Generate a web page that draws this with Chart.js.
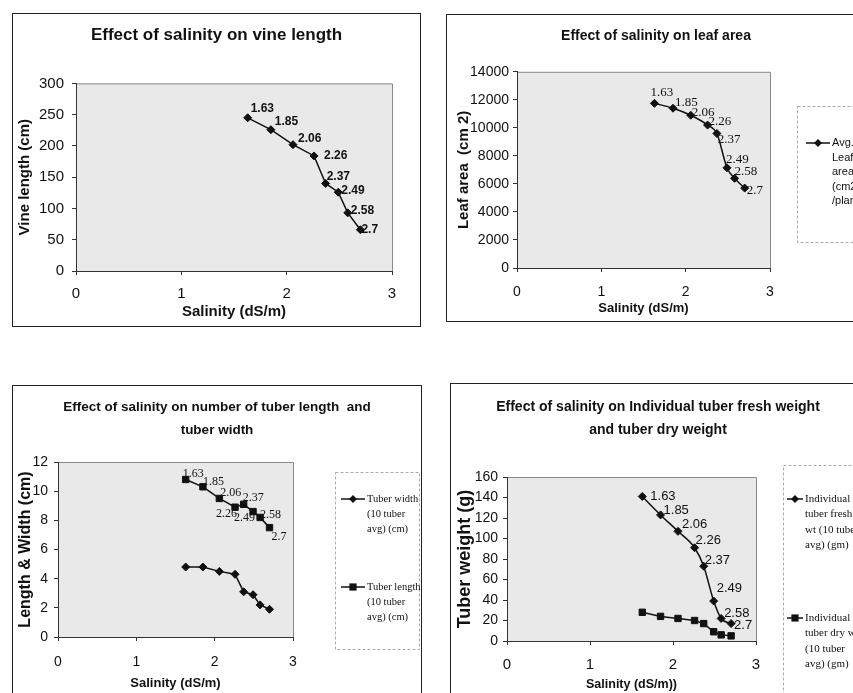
<!DOCTYPE html>
<html>
<head>
<meta charset="utf-8">
<script src="https://cdn.jsdelivr.net/npm/chart.js@4.4.1/dist/chart.umd.min.js"></script>
<style>
  body { margin: 0; background: #fff; width: 853px; height: 693px; overflow: hidden; position: relative; }
  .box { position: absolute; border: 1px solid #222; background: #fff; }
  .box canvas { display: block; }
</style>
</head>
<body>
<div class="box" style="left:12px;top:13px;width:407px;height:312px"><canvas id="vineChart"></canvas></div>
<div class="box" style="left:446px;top:14px;width:418px;height:306px"><canvas id="leafChart"></canvas></div>
<div class="box" style="left:12px;top:385px;width:408px;height:320px"><canvas id="sizeChart"></canvas></div>
<div class="box" style="left:450px;top:383px;width:414px;height:322px"><canvas id="weightChart"></canvas></div>
<script>
const salinity = [1.63, 1.85, 2.06, 2.26, 2.37, 2.49, 2.58, 2.7];
const vineLength = [245, 226, 202, 184, 140, 126, 93, 66];
const leafArea = [11750, 11400, 10900, 10200, 9600, 7150, 6400, 5700];
const tuberWidth = [4.8, 4.8, 4.5, 4.3, 3.1, 2.9, 2.2, 1.9];
const tuberLength = [10.8, 10.3, 9.5, 8.9, 9.1, 8.6, 8.2, 7.5];
const freshWeight = [141, 123, 107, 91, 73, 39, 22, 17];
const dryWeight = [28, 24, 22, 20, 17, 9, 6, 5];
const salinityTicks = [0, 1, 2, 3];

// where the little value tags sit next to each point (px)
const vineTagDx = [3, 4, 5, 10, 1, 3, 3, 1], vineTagDy = [-9, -8, -6, 0, -7, -2, -2, 0];
const leafTagDx = [-4, 2, 1, 1, 1, -1, 0, 2], leafTagDy = [-11, -6, -3, -3, 6, -8, -7, 2];
const lengthTagDx = [-3, 0, 1, -19, -1, -19, 0, 2], lengthTagDy = [-6, -5, -6, 7, -6, 6, -3, 9];
const freshTagDx = [8, 3, 4, 1, 1, 3, 3, 3], freshTagDy = [0, -5, -7, -7, -6, -13, -5, 2];

const SANS = "'Liberation Sans', Arial, sans-serif";
const SERIF = "'Liberation Serif', 'Times New Roman', serif";

Chart.defaults.font.family = SANS;
Chart.defaults.color = '#111';

const plotBack = {
  id: 'plotBack',
  beforeDraw(chart) {
    const a = chart.chartArea, ctx = chart.ctx;
    ctx.save();
    ctx.fillStyle = '#e9e9e9';
    ctx.fillRect(a.left, a.top, a.right - a.left, a.bottom - a.top);
    ctx.strokeStyle = '#8a8a8a';
    ctx.lineWidth = 1;
    ctx.beginPath();
    ctx.moveTo(a.left, a.top + 0.5); ctx.lineTo(a.right + 0.5, a.top + 0.5); ctx.lineTo(a.right + 0.5, a.bottom);
    ctx.stroke();
    ctx.restore();
  }
};

function tagPlugin(dsIndex, dx, dy, font) {
  return {
    id: 'tags' + dsIndex,
    afterDatasetsDraw(chart) {
      const ctx = chart.ctx;
      ctx.save();
      ctx.font = font;
      ctx.fillStyle = '#111';
      ctx.textAlign = 'left';
      ctx.textBaseline = 'middle';
      chart.getDatasetMeta(dsIndex).data.forEach((pt, i) => {
        ctx.fillText(String(salinity[i]), pt.x + dx[i], pt.y + dy[i]);
      });
      ctx.restore();
    }
  };
}

function marker(ctx, style, r, x, y) {
  ctx.beginPath();
  if (style === 'rect') {
    ctx.rect(x - r * 0.8, y - r * 0.8, r * 1.6, r * 1.6);
  } else {
    ctx.moveTo(x, y - r); ctx.lineTo(x + r, y); ctx.lineTo(x, y + r); ctx.lineTo(x - r, y); ctx.closePath();
  }
  ctx.fill();
}

function boxLegend(box, items, font, step) {
  return {
    id: 'boxLegend',
    afterDraw(chart) {
      const ctx = chart.ctx;
      ctx.save();
      ctx.strokeStyle = '#aaa';
      ctx.lineWidth = 1;
      ctx.setLineDash([3, 2]);
      ctx.strokeRect(box.x + 0.5, box.y + 0.5, box.w, box.h);
      ctx.setLineDash([]);
      items.forEach(it => {
        const ds = chart.data.datasets[it.dataset];
        ctx.strokeStyle = '#111';
        ctx.fillStyle = '#111';
        ctx.lineWidth = 1.5;
        ctx.beginPath(); ctx.moveTo(it.x0, it.y); ctx.lineTo(it.x1, it.y); ctx.stroke();
        marker(ctx, ds.pointStyle, ds.pointRadius, (it.x0 + it.x1) / 2, it.y);
        ctx.font = font;
        ctx.textAlign = 'left';
        ctx.textBaseline = 'middle';
        it.lines.forEach((t, k) => ctx.fillText(t, it.x1 + 2, it.y + k * step));
      });
      ctx.restore();
    }
  };
}

function xScale(height, pad, titlePad, font, titleFont, text) {
  return {
    type: 'linear', min: 0, max: 3,
    afterBuildTicks: s => { s.ticks = salinityTicks.map(v => ({ value: v })); },
    afterFit: s => { s.height = height; },
    grid: { display: true, drawOnChartArea: false, tickLength: 4, color: '#333' },
    border: { color: '#333', width: 1 },
    ticks: { padding: pad, font: font, color: '#111', maxRotation: 0 },
    title: { display: true, text: text || 'Salinity (dS/m)', font: titleFont, color: '#111', padding: { top: 0, bottom: titlePad } }
  };
}

function yScale(width, max, step, pad, titlePad, text, font, titleFont) {
  return {
    min: 0, max: max,
    afterFit: s => { s.width = width; },
    grid: { display: true, drawOnChartArea: false, tickLength: 4, color: '#333' },
    border: { color: '#333', width: 1 },
    ticks: { stepSize: step, padding: pad, font: font, color: '#111', autoSkip: false, format: { useGrouping: false } },
    title: { display: true, text: text, font: titleFont, color: '#111', padding: { top: titlePad, bottom: 0 } }
  };
}

// empty axis on the right that keeps room for the legend box
function spacer(width) {
  return {
    position: 'right', display: true,
    afterFit: s => { s.width = width; },
    grid: { display: false }, border: { display: false }, ticks: { display: false }
  };
}

function series(values, style, radius, tension) {
  return {
    data: salinity.map((x, i) => ({ x: x, y: values[i] })),
    borderColor: '#111', backgroundColor: '#111',
    borderWidth: 1.5, pointStyle: style, pointRadius: radius, pointBorderWidth: 1,
    tension: tension || 0, cubicInterpolationMode: tension ? 'monotone' : 'default'
  };
}

function baseOptions(title, scales) {
  return {
    responsive: true, maintainAspectRatio: false, animation: false, events: [],
    layout: { padding: 0 },
    plugins: { legend: { display: false }, tooltip: { enabled: false }, title: title },
    scales: scales
  };
}

// vine length
new Chart(document.getElementById('vineChart'), {
  type: 'line',
  data: { datasets: [series(vineLength, 'rectRot', 4)] },
  options: baseOptions(
    { display: true, text: 'Effect of salinity on vine length', font: { size: 17, weight: 'bold' }, color: '#111', padding: { top: 11, bottom: 38 } },
    {
      x: xScale(55, 10, 5, { size: 15 }, { size: 15, weight: 'bold' }),
      y: yScale(63, 300, 50, 8, 3, 'Vine length (cm)', { size: 15 }, { size: 15, weight: 'bold' }),
      pad: spacer(28)
    }),
  plugins: [plotBack, tagPlugin(0, vineTagDx, vineTagDy, 'bold 12px ' + SANS)]
});

// leaf area
new Chart(document.getElementById('leafChart'), {
  type: 'line',
  data: { datasets: [series(leafArea, 'rectRot', 4, 0.2)] },
  options: baseOptions(
    { display: true, text: 'Effect of salinity on leaf area', font: { size: 14, weight: 'bold' }, color: '#111', padding: { top: 13, bottom: 27 } },
    {
      x: xScale(53, 12, 5, { size: 14 }, { size: 13, weight: 'bold' }),
      y: yScale(70, 14000, 2000, 4, 8, 'Leaf area  (cm 2)', { size: 14 }, { size: 15, weight: 'bold' }),
      pad: spacer(95)
    }),
  plugins: [plotBack, tagPlugin(0, leafTagDx, leafTagDy, '13px ' + SERIF),
    boxLegend({ x: 350, y: 91, w: 120, h: 136 },
      [{ dataset: 0, x0: 359, x1: 383, y: 128, lines: ['Avg.', 'Leaf', 'area', '(cm2', '/plant)'] }],
      '11px ' + SANS, 14.5)]
});

// tuber length and width
new Chart(document.getElementById('sizeChart'), {
  type: 'line',
  data: { datasets: [series(tuberWidth, 'rectRot', 4), series(tuberLength, 'rect', 4.5)] },
  options: baseOptions(
    { display: true, text: ['Effect of salinity on number of tuber length  and', 'tuber width'], font: { size: 13.5, weight: 'bold', lineHeight: '23px' }, color: '#111', padding: { top: 10, bottom: 20 } },
    {
      x: xScale(69, 13, 15, { size: 14 }, { size: 13, weight: 'bold' }),
      y: yScale(45, 12, 2, 6, 3, 'Length & Width (cm)', { size: 14 }, { size: 16, weight: 'bold' }),
      pad: spacer(128)
    }),
  plugins: [plotBack, tagPlugin(1, lengthTagDx, lengthTagDy, '12px ' + SERIF),
    boxLegend({ x: 322, y: 86, w: 84, h: 177 },
      [{ dataset: 0, x0: 328, x1: 352, y: 113, lines: ['Tuber width', '(10 tuber', 'avg) (cm)'] },
       { dataset: 1, x0: 328, x1: 352, y: 201, lines: ['Tuber length', '(10 tuber', 'avg) (cm)'] }],
      '10.5px ' + SERIF, 15)]
});

// tuber fresh and dry weight
new Chart(document.getElementById('weightChart'), {
  type: 'line',
  data: { datasets: [series(freshWeight, 'rectRot', 4, 0.3), series(dryWeight, 'rect', 4.5)] },
  options: baseOptions(
    { display: true, text: ['Effect of salinity on Individual tuber fresh weight', 'and tuber dry weight'], font: { size: 14, weight: 'bold', lineHeight: '23px' }, color: '#111', padding: { top: 12, bottom: 35 } },
    {
      x: xScale(65, 11, 14, { size: 15 }, { size: 12.5, weight: 'bold' }, 'Salinity (dS/m))'),
      y: yScale(56, 160, 20, 5, 3, 'Tuber weight (g)', { size: 14 }, { size: 18, weight: 'bold' }),
      pad: spacer(109)
    }),
  plugins: [plotBack, tagPlugin(0, freshTagDx, freshTagDy, '13px ' + SANS),
    boxLegend({ x: 332, y: 81, w: 150, h: 300 },
      [{ dataset: 0, x0: 336, x1: 352, y: 115, lines: ['Individual', 'tuber fresh', 'wt (10 tuber', 'avg) (gm)'] },
       { dataset: 1, x0: 336, x1: 352, y: 234, lines: ['Individual', 'tuber dry wt', '(10 tuber', 'avg) (gm)'] }],
      '11px ' + SERIF, 15.5)]
});
</script>
</body>
</html>
